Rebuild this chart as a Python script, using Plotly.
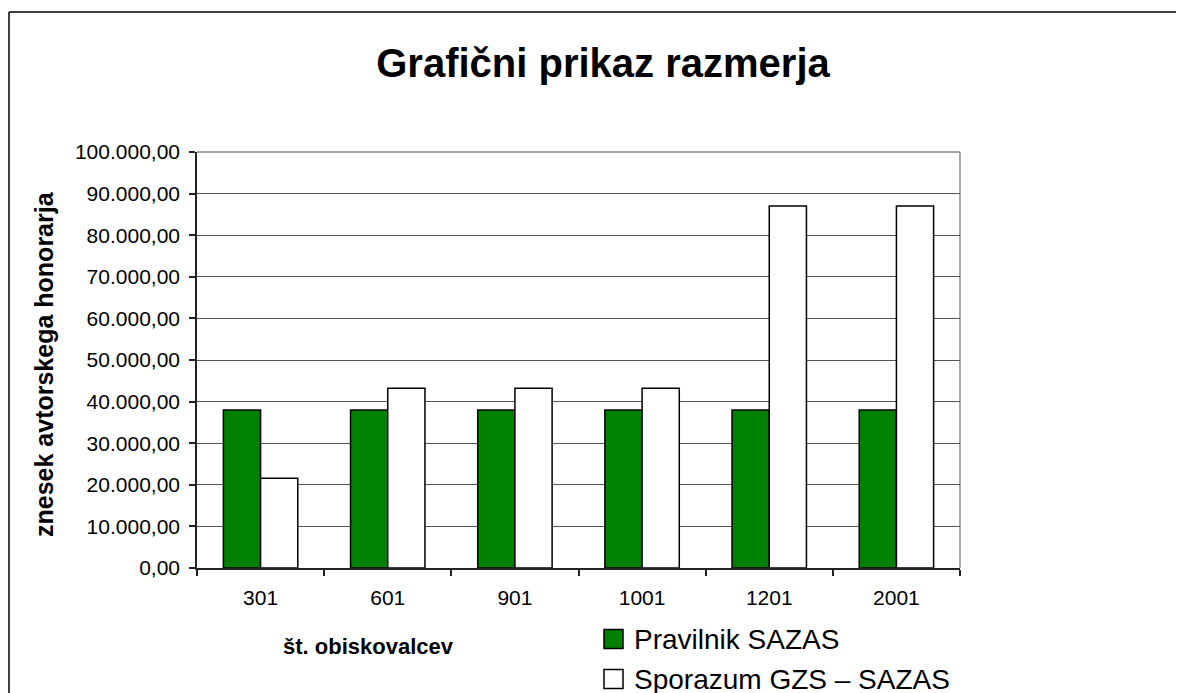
import plotly.graph_objects as go

categories = ["301", "601", "901", "1001", "1201", "2001"]
pravilnik = [38000, 38000, 38000, 38000, 38000, 38000]
sporazum = [21600, 43200, 43200, 43200, 87000, 87000]
series_names = ["Pravilnik SAZAS", "Sporazum GZS – SAZAS"]
title_text = "Grafični prikaz razmerja"
y_title = "znesek avtorskega honorarja"
x_title = "št. obiskovalcev"

W, H = 1184, 693
OFF = 8  # page body margin: screen position = figure position + 8
# plot area in screen pixels (reference)
L, R, T, B = 197, 960, 152, 568
pw, ph = R - L, B - T


def px(x):
    return (x - L) / pw


def py(y):
    return (B - y) / ph


FONT = "Liberation Sans, Arial, sans-serif"

fig = go.Figure()
fig.add_trace(go.Bar(x=categories, y=pravilnik, name=series_names[0],
                     marker=dict(color="#008000", line=dict(color="black", width=1.5)),
                     showlegend=False))
fig.add_trace(go.Bar(x=categories, y=sporazum, name=series_names[1],
                     marker=dict(color="white", line=dict(color="black", width=1.5)),
                     showlegend=False))

shapes = [
    # outer frame (left and top edges visible)
    dict(type="line", xref="paper", yref="paper", x0=px(9), x1=px(9), y0=py(W + 50), y1=py(12),
         line=dict(color="black", width=1.5)),
    dict(type="line", xref="paper", yref="paper", x0=px(9), x1=px(W + 50), y0=py(12), y1=py(12),
         line=dict(color="black", width=1.5)),
    # plot area border top/right (gray)
    dict(type="line", xref="paper", yref="paper", x0=0, x1=1, y0=1, y1=1,
         line=dict(color="#888888", width=1.5), layer="below"),
    dict(type="line", xref="paper", yref="paper", x0=1, x1=1, y0=0, y1=1,
         line=dict(color="#888888", width=1.5), layer="below"),
    # legend squares
    dict(type="rect", xref="paper", yref="paper", x0=px(604), x1=px(623), y0=py(648.5), y1=py(629.5),
         fillcolor="#008000", line=dict(color="black", width=1.5)),
    dict(type="rect", xref="paper", yref="paper", x0=px(604), x1=px(623), y0=py(688.5), y1=py(669.5),
         fillcolor="white", line=dict(color="black", width=1.5)),
]

annotations = [
    dict(text=y_title, xref="paper", yref="paper", x=px(44), y=py(364), textangle=-90,
         showarrow=False, xanchor="center", yanchor="middle",
         font=dict(family=FONT, size=25, color="black", weight="bold")),
    dict(text=x_title, xref="paper", yref="paper", x=px(281), y=py(646),
         showarrow=False, xanchor="left", yanchor="middle",
         font=dict(family=FONT, size=22, color="black", weight="bold")),
    dict(text=series_names[0], xref="paper", yref="paper", x=px(632), y=py(639),
         showarrow=False, xanchor="left", yanchor="middle",
         font=dict(family=FONT, size=28, color="black")),
    dict(text=series_names[1], xref="paper", yref="paper", x=px(632), y=py(679),
         showarrow=False, xanchor="left", yanchor="middle",
         font=dict(family=FONT, size=28, color="black")),
]

fig.update_layout(
    width=W, height=H,
    margin=dict(l=L - OFF, r=W - (R - OFF), t=T - OFF, b=H - (B - OFF), pad=0),
    paper_bgcolor="white", plot_bgcolor="white",
    separators=",.",
    barmode="group", bargap=0.415, bargroupgap=0,
    font=dict(family=FONT, color="black"),
    title=dict(text=title_text, x=px(603), xref="paper", xanchor="center",
               y=1 - (63 - OFF) / H, yref="container", yanchor="middle",
               font=dict(family=FONT, size=40, color="black", weight="bold")),
    shapes=shapes,
    annotations=annotations,
    showlegend=False,
)

fig.update_yaxes(range=[0, 100000], dtick=10000, tickformat=",.2f",
                 showgrid=True, gridcolor="#555555", gridwidth=1,
                 showline=True, linecolor="#222222", linewidth=1.5,
                 ticks="outside", ticklen=6, tickcolor="#222222", tickwidth=1.5,
                 ticklabelstandoff=5,
                 tickfont=dict(family=FONT, size=21, color="black"),
                 zeroline=False, fixedrange=True)
fig.update_xaxes(type="category", tickson="boundaries",
                 showline=True, linecolor="#222222", linewidth=1.5,
                 ticks="outside", ticklen=6, tickcolor="#222222", tickwidth=1.5,
                 ticklabelstandoff=10,
                 tickfont=dict(family=FONT, size=21, color="black"),
                 showgrid=False, fixedrange=True)

fig.write_html("out.html")
